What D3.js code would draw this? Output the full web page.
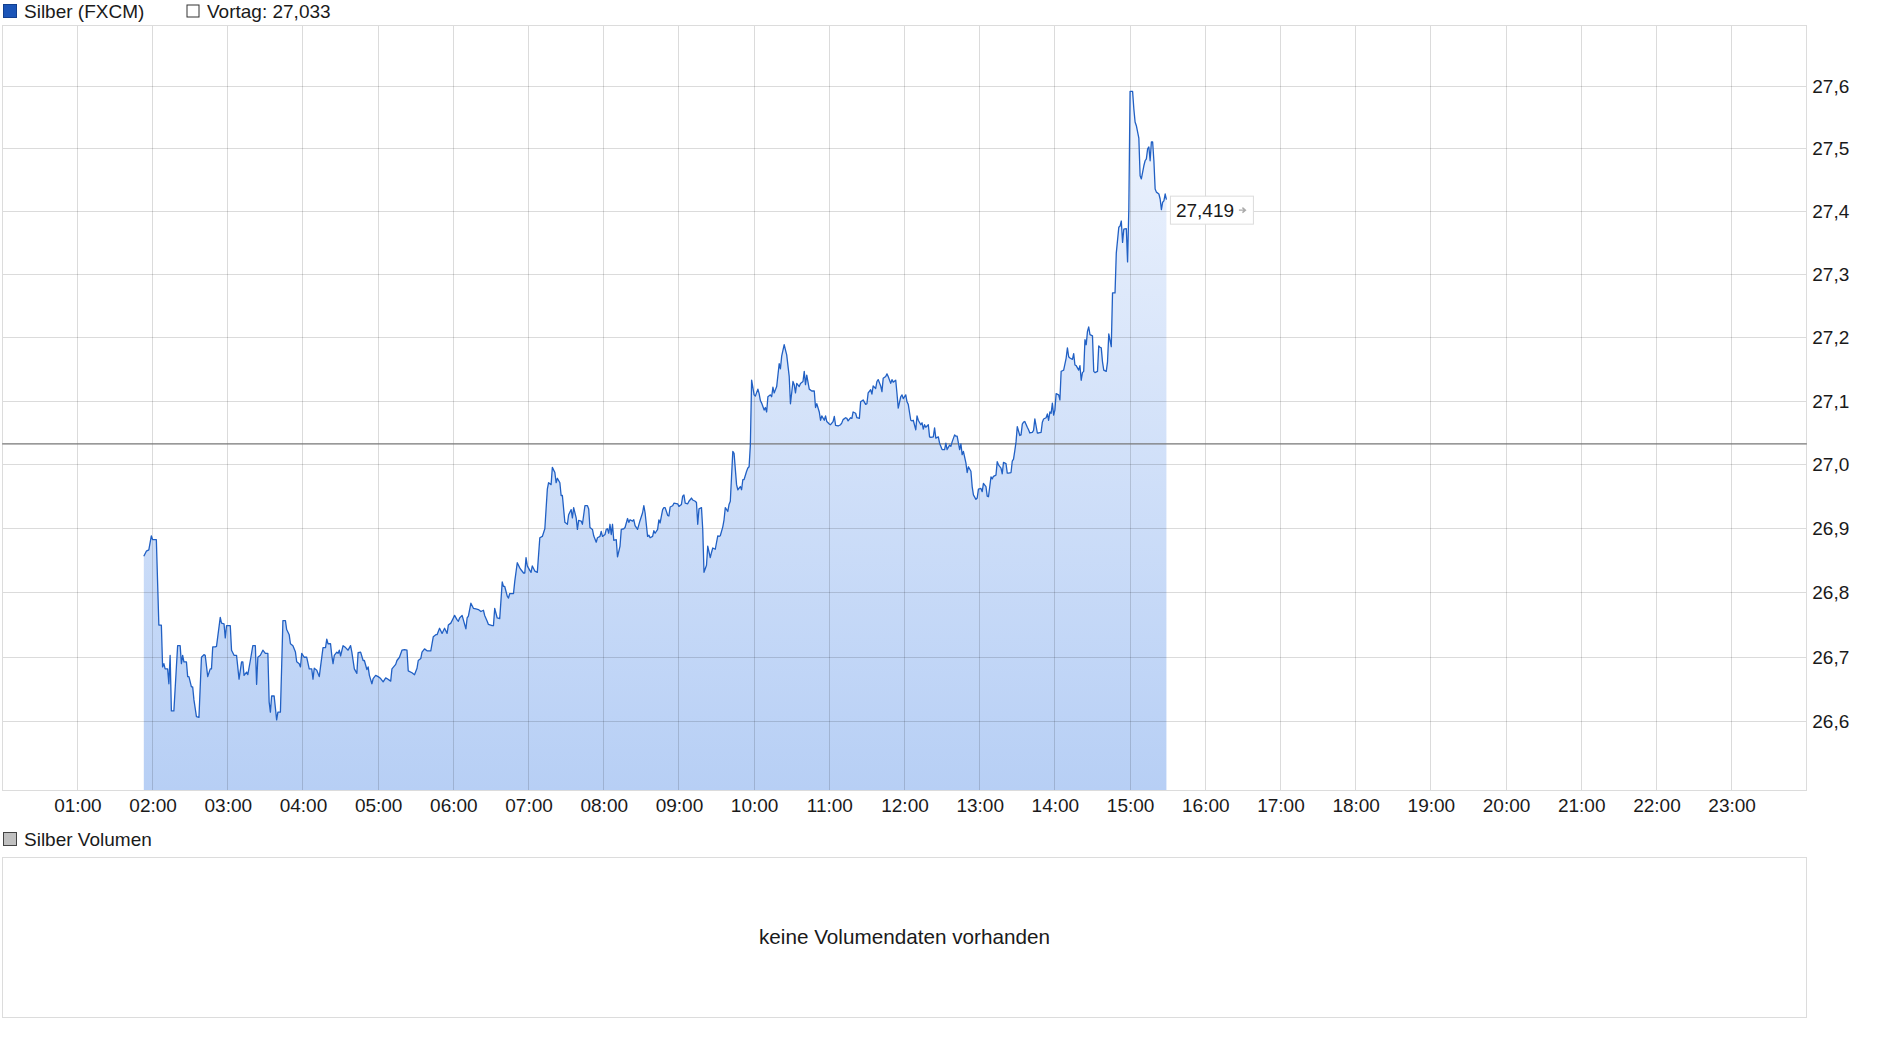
<!DOCTYPE html>
<html lang="de">
<head>
    <meta charset="UTF-8">
    <title>Silber (FXCM)</title>
    <script src="https://cdn.jsdelivr.net/npm/d3@7"></script>
</head>
<body>
<style>
    body {
        margin: 0;
        background-color: white;
    }
    svg {
        display: block;
    }
    svg text {
        font-family: "Liberation Sans", Arial, sans-serif;
        font-size: 19px;
        fill: #1a1a1a;
    }
    .grid line {
        stroke: rgba(0, 0, 0, 0.14);
        shape-rendering: crispEdges;
    }
    .frame {
        fill: none;
        stroke: #dcdcdc;
        shape-rendering: crispEdges;
    }
    .axis path,
    .axis line {
        display: none;
    }
    .note {
        font-size: 20.7px;
    }
</style>

<svg width="1880" height="1037"></svg>

<script>
    // Kurs in Minuten seit 00:00
    var times = [
        113,115,117,119,120,123,125,127,128,129,130,132,133,134,135,137,139,140,142,143,
        144,145,147,148,149,151,152,153,155,157,159,161,162,164,166,167,168,170,171,174,
        175,177,178,179,182,183,185,187,189,191,192,193,195,196,198,200,202,203,204,206,
        208,210,212,213,214,215,217,219,220,222,224,226,227,229,230,232,234,235,237,238,
        239,241,243,245,247,248,249,251,253,254,256,258,259,260,262,263,264,265,267,268,
        269,270,272,274,276,278,279,281,283,284,286,288,289,291,292,293,295,296,298,300,
        302,304,306,307,310,311,314,315,317,319,321,323,324,327,329,331,332,334,335,337,
        339,342,344,346,347,349,351,353,355,356,358,
        360,361,363,364,365,367,368,370,371,372,374,376,378,380,382,384,385,387,388,391,
        392,393,395,397,399,400,401,403,404,405,408,409,411,413,414,416,417,418,419,421,
        422,423,425,427,429,431,433,435,436,438,439,441,442,443,445,446,447,449,451,452,
        454,455,456,458,459,460,462,463,465,467,468,469,471,472,474,475,477,478,479,481,
        482,483,484,485,486,487,488,490,491,493,494,496,497,499,500,501,503,504,505,507,
        509,511,512,513,515,516,517,519,520,521,523,524,525,527,528,529,531,532,533,535,
        536,539,540,542,543,544,545,547,548,550,551,553,554,555,556,558,559,560,562,563,
        565,566,567,569,571,572,573,575,576,577,579,580,581,582,583,584,
        586,587,589,590,591,592,594,595,596,597,598,600,601,603,604,605,606,608,609,610,
        611,613,614,615,616,617,618,620,621,622,624,625,626,628,629,631,632,633,634,636,
        637,639,640,641,642,644,646,648,649,650,652,653,654,656,657,658,660,661,663,664,
        665,667,669,670,671,673,674,675,677,678,679,681,682,684,685,687,689,690,691,693,
        694,695,697,698,699,701,702,703,705,706,707,709,710,711,713,714,715,717,718,719,
        721,722,723,725,726,727,729,730,731,733,734,735,736,737,739,740,741,743,744,745,
        747,748,750,752,753,754,756,757,758,760,761,762,764,765,766,767,769,770,771,773,
        774,775,777,778,779,781,782,783,785,786,787,789,790,791,793,794,795,797,798,799,
        801,802,803,805,
        806,807,808,809,810,812,813,814,815,816,818,819,820,822,823,824,826,827,829,830,
        831,833,834,835,836,837,838,839,840,841,843,844,845,846,847,849,850,851,852,854,
        855,856,857,859,860,861,862,863,864,865,866,867,868,870,871,872,874,875,876,877,
        878,879,881,882,883,885,886,888,889,891,892,893,894,895,897,898,899,900,902,903,
        904,905,907,908,909,911,912,913,914,915,916,917,918,919,920,921,923,924,925,926,
        927,928,929
    ];
    var prices = [
        26.857,26.865,26.867,26.889,26.883,26.883,26.750,26.750,26.685,26.690,
        26.682,26.682,26.659,26.703,26.617,26.617,26.685,26.718,26.718,26.690,
        26.703,26.693,26.693,26.670,26.670,26.654,26.654,26.634,26.608,26.607,
        26.700,26.704,26.703,26.670,26.682,26.682,26.716,26.716,26.717,26.762,
        26.753,26.752,26.730,26.749,26.749,26.711,26.703,26.703,26.666,26.693,
        26.693,26.672,26.677,26.673,26.695,26.718,26.718,26.658,26.700,26.703,
        26.711,26.706,26.706,26.631,26.615,26.640,26.640,26.603,26.615,26.615,
        26.757,26.757,26.743,26.735,26.721,26.718,26.708,26.693,26.690,26.685,
        26.706,26.700,26.700,26.682,26.682,26.666,26.683,26.680,26.670,26.685,
        26.715,26.715,26.728,26.721,26.721,26.703,26.690,26.703,26.708,26.706,
        26.711,26.702,26.718,26.715,26.711,26.718,26.708,26.682,26.675,26.707,
        26.708,26.695,26.695,26.681,26.685,26.672,26.659,26.667,26.672,26.670,
        26.667,26.662,26.668,26.667,26.663,26.682,26.689,26.695,26.700,26.711,
        26.712,26.711,26.679,26.676,26.673,26.683,26.695,26.698,26.708,26.713,
        26.710,26.710,26.732,26.735,26.735,26.745,26.737,26.745,26.737,26.750,
        26.753,
        26.761,26.765,26.758,26.756,26.761,26.765,26.758,26.744,26.761,26.764,
        26.784,26.776,26.775,26.774,26.771,26.773,26.765,26.756,26.751,26.749,
        26.749,26.776,26.761,26.760,26.817,26.810,26.810,26.795,26.792,26.799,
        26.799,26.818,26.847,26.839,26.836,26.831,26.831,26.855,26.842,26.835,
        26.832,26.842,26.834,26.832,26.886,26.888,26.900,26.962,26.972,26.969,
        26.996,26.988,26.972,26.979,26.972,26.952,26.952,26.910,26.907,26.922,
        26.930,26.917,26.933,26.917,26.899,26.913,26.912,26.907,26.936,26.936,
        26.931,26.902,26.899,26.889,26.879,26.886,26.888,26.896,26.888,26.891,
        26.899,26.900,26.893,26.907,26.891,26.907,26.882,26.883,26.856,26.873,
        26.899,26.900,26.902,26.916,26.910,26.914,26.912,26.914,26.905,26.899,
        26.913,26.925,26.936,26.925,26.888,26.890,26.886,26.888,26.897,26.893,
        26.899,26.914,26.909,26.930,26.933,26.933,26.921,26.920,26.934,26.936,
        26.940,26.939,26.935,26.938,26.951,26.953,26.940,26.939,26.943,26.948,
        26.945,26.943,26.941,26.907,26.931,26.933,26.899,26.832,26.843,26.873,
        26.855,26.863,26.870,26.868,26.889,26.888,26.889,26.903,26.914,26.933,
        26.927,26.938,26.943,26.982,27.021,27.018,
        26.969,26.961,26.966,26.961,26.977,26.977,26.990,26.995,26.997,27.031,
        27.133,27.110,27.108,27.119,27.112,27.101,27.097,27.086,27.090,27.083,
        27.107,27.110,27.107,27.122,27.113,27.118,27.123,27.159,27.151,27.171,
        27.189,27.181,27.173,27.139,27.096,27.131,27.126,27.113,27.128,27.123,
        27.128,27.131,27.147,27.126,27.141,27.119,27.116,27.116,27.090,27.096,
        27.083,27.070,27.077,27.070,27.077,27.068,27.064,27.063,27.068,27.076,
        27.062,27.061,27.063,27.066,27.071,27.074,27.073,27.069,27.074,27.073,
        27.083,27.081,27.074,27.073,27.099,27.102,27.095,27.096,27.113,27.118,
        27.111,27.124,27.120,27.131,27.134,27.124,27.115,27.136,27.139,27.143,
        27.139,27.128,27.134,27.130,27.133,27.112,27.089,27.107,27.110,27.104,
        27.110,27.099,27.095,27.070,27.069,27.070,27.055,27.077,27.070,27.063,
        27.066,27.056,27.063,27.059,27.063,27.044,27.043,27.044,27.058,27.042,
        27.044,27.034,27.024,27.024,27.034,27.024,27.031,27.029,27.036,27.047,
        27.045,27.045,27.024,27.033,27.016,27.021,27.003,26.988,26.997,26.990,
        26.966,26.953,26.946,26.948,26.962,26.963,26.958,26.971,26.966,26.951,
        26.950,26.981,26.978,26.982,26.984,27.005,27.000,26.995,26.986,27.004,
        27.002,26.987,26.987,26.988,
        27.006,27.009,27.022,27.036,27.060,27.046,27.047,27.064,27.067,27.068,
        27.059,27.055,27.050,27.051,27.054,27.072,27.050,27.050,27.051,27.067,
        27.072,27.074,27.080,27.070,27.083,27.081,27.097,27.078,27.086,27.112,
        27.110,27.102,27.147,27.148,27.149,27.168,27.184,27.170,27.168,27.166,
        27.175,27.157,27.156,27.149,27.156,27.133,27.145,27.147,27.197,27.189,
        27.210,27.217,27.205,27.203,27.147,27.145,27.147,27.187,27.185,27.184,
        27.162,27.149,27.147,27.162,27.206,27.186,27.271,27.271,27.334,27.375,
        27.377,27.385,27.351,27.372,27.373,27.320,27.404,27.592,27.592,27.564,
        27.543,27.537,27.517,27.457,27.452,27.473,27.481,27.484,27.500,27.503,
        27.481,27.511,27.511,27.481,27.436,27.431,27.428,27.420,27.403,27.415,
        27.417,27.428,27.419
    ];
    var hourLabels = ["01:00", "02:00", "03:00", "04:00", "05:00", "06:00", "07:00", "08:00",
        "09:00", "10:00", "11:00", "12:00", "13:00", "14:00", "15:00", "16:00", "17:00",
        "18:00", "19:00", "20:00", "21:00", "22:00", "23:00"];
    var priceTicks = [26.6, 26.7, 26.8, 26.9, 27.0, 27.1, 27.2, 27.3, 27.4, 27.5, 27.6];
    var prevClose = 27.033;
    var seriesName = "Silber (FXCM)";
    var volumeName = "Silber Volumen";
    var volumeNote = "keine Volumendaten vorhanden";

    if (times.length !== prices.length) console.log("length mismatch", times.length, prices.length);

    var data = times.map(function (t, i) {
        return {t: t, v: prices[i]};
    });
    var last = data[data.length - 1];

    var de = d3.formatLocale({decimal: ",", thousands: ".", grouping: [3], currency: ["", " €"]});
    var fmt1 = de.format(".1f");
    var fmt3 = de.format(".3f");

    var plotLeft = 2.2, plotRight = 1806.8, plotTop = 25, plotBottom = 790;
    var svg = d3.select("svg");

    var getX = d3.scaleLinear()
            .domain([0, 24 * 60])
            .range([plotLeft, plotRight]);
    var getY = d3.scaleLog()
            .domain([26.495, 27.6985])
            .range([plotBottom, plotTop]);

    var defs = svg.append("defs");
    var grad = defs.append("linearGradient")
            .attr("id", "fillGrad")
            .attr("gradientUnits", "userSpaceOnUse")
            .attr("x1", 0).attr("x2", 0)
            .attr("y1", plotTop).attr("y2", plotBottom);
    grad.append("stop").attr("offset", "0%").attr("stop-color", "#f3f7fe");
    grad.append("stop").attr("offset", "100%").attr("stop-color", "#b7cff5");

    // Legende oben
    svg.append("rect")
            .attr("x", 3.5).attr("y", 4.5)
            .attr("width", 13).attr("height", 13)
            .attr("fill", "#1b55b8")
            .attr("stroke", "#123f8f");
    svg.append("text")
            .attr("x", 24).attr("y", 17.5)
            .text(seriesName);
    svg.append("rect")
            .attr("x", 187).attr("y", 5)
            .attr("width", 12).attr("height", 12)
            .attr("fill", "white")
            .attr("stroke", "#333");
    svg.append("text")
            .attr("x", 207).attr("y", 17.5)
            .text("Vortag: " + fmt3(prevClose));

    // Flaeche unter dem Kurs
    var area = d3.area()
            .x(function (d) { return getX(d.t); })
            .y0(plotBottom)
            .y1(function (d) { return getY(d.v); });
    svg.append("path")
            .datum(data)
            .attr("d", area)
            .attr("fill", "url(#fillGrad)");

    // Gitter
    var grid = svg.append("g").attr("class", "grid");
    grid.selectAll(".vline")
            .data(hourLabels)
            .enter()
            .append("line")
            .attr("class", "vline")
            .attr("x1", function (d) { return getX(parseInt(d, 10) * 60); })
            .attr("x2", function (d) { return getX(parseInt(d, 10) * 60); })
            .attr("y1", plotTop)
            .attr("y2", plotBottom);
    grid.selectAll(".hline")
            .data(priceTicks)
            .enter()
            .append("line")
            .attr("class", "hline")
            .attr("x1", plotLeft)
            .attr("x2", plotRight)
            .attr("y1", function (d) { return getY(d); })
            .attr("y2", function (d) { return getY(d); });

    svg.append("rect")
            .attr("class", "frame")
            .attr("x", plotLeft)
            .attr("y", plotTop)
            .attr("width", plotRight - plotLeft)
            .attr("height", plotBottom - plotTop);

    // Vortageslinie
    svg.append("line")
            .attr("x1", plotLeft)
            .attr("x2", plotRight)
            .attr("y1", getY(prevClose))
            .attr("y2", getY(prevClose))
            .attr("stroke", "#777")
            .attr("stroke-width", 1.2);

    var line = d3.line()
            .x(function (d) { return getX(d.t); })
            .y(function (d) { return getY(d.v); });
    svg.append("path")
            .datum(data)
            .attr("d", line)
            .attr("fill", "none")
            .attr("stroke", "#2160c4")
            .attr("stroke-width", 1.3)
            .attr("stroke-linejoin", "round");

    // Achsen
    var axisX = d3.axisBottom(getX)
            .tickValues(hourLabels.map(function (d) { return parseInt(d, 10) * 60; }))
            .tickFormat(function (d, i) { return hourLabels[i]; })
            .tickSize(0)
            .tickPadding(9);
    svg.append("g")
            .attr("class", "axis")
            .attr("transform", "translate(0," + plotBottom + ")")
            .call(axisX);

    var axisY = d3.axisRight(getY)
            .tickValues(priceTicks)
            .tickFormat(fmt1)
            .tickSize(0)
            .tickPadding(5.5);
    svg.append("g")
            .attr("class", "axis")
            .attr("transform", "translate(" + plotRight + ",0)")
            .call(axisY);
    svg.selectAll(".axis").attr("font-family", null).attr("font-size", null);

    // letzter Kurs
    var lx = getX(last.t) + 3.5;
    var ly = getY(last.v);
    var label = svg.append("g")
            .attr("transform", "translate(" + lx + "," + (ly - 4) + ")");
    label.append("rect")
            .attr("x", 0.5).attr("y", 0.5)
            .attr("width", 83).attr("height", 28)
            .attr("fill", "white")
            .attr("stroke", "#dcdcdc");
    label.append("text")
            .attr("x", 6)
            .attr("y", 14.5)
            .attr("dy", "0.35em")
            .text(fmt3(last.v));
    label.append("path")
            .attr("d", "M69,14.5 H75 M72.5,12 L75.5,14.5 L72.5,17")
            .attr("fill", "none")
            .attr("stroke", "#aaa")
            .attr("stroke-width", 1.4);

    // Volumen-Bereich
    svg.append("rect")
            .attr("x", 3.5).attr("y", 832.5)
            .attr("width", 13).attr("height", 13)
            .attr("fill", "#c0c0c0")
            .attr("stroke", "#444");
    svg.append("text")
            .attr("x", 24).attr("y", 846)
            .text(volumeName);
    svg.append("rect")
            .attr("class", "frame")
            .attr("x", plotLeft)
            .attr("y", 857)
            .attr("width", plotRight - plotLeft)
            .attr("height", 160);
    svg.append("text")
            .attr("class", "note")
            .attr("x", (plotLeft + plotRight) / 2)
            .attr("y", 937)
            .attr("dy", "0.35em")
            .attr("text-anchor", "middle")
            .text(volumeNote);
</script>
</body>
</html>
